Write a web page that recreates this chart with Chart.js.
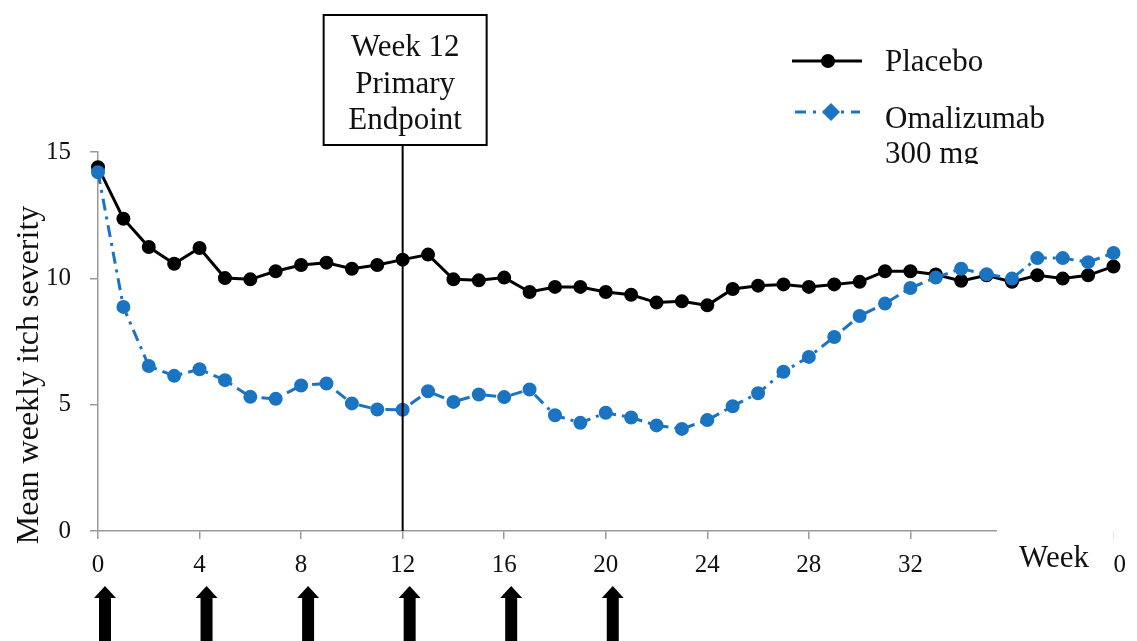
<!DOCTYPE html>
<html>
<head>
<meta charset="utf-8">
<script src="https://cdn.jsdelivr.net/npm/chart.js@4"></script>
<style>
  body { margin: 0; background: #fff; }
  #wrap { width: 1137px; height: 641px; position: relative; }
</style>
</head>
<body>
<div id="wrap"><canvas id="itchChart"></canvas></div>
<script>
// weeks 0..40
const weeks = [0,1,2,3,4,5,6,7,8,9,10,11,12,13,14,15,16,17,18,19,20,21,22,23,24,25,26,27,28,29,30,31,32,33,34,35,36,37,38,39,40];
const placebo = [14.4,12.36,11.24,10.58,11.2,10.01,9.96,10.28,10.53,10.62,10.38,10.53,10.74,10.94,9.96,9.92,10.03,9.46,9.66,9.66,9.46,9.35,9.04,9.09,8.93,9.58,9.71,9.76,9.66,9.76,9.86,10.28,10.28,10.15,9.9,10.12,9.86,10.12,9.99,10.12,10.47];
const omalizumab = [14.2,8.87,6.53,6.14,6.4,5.97,5.31,5.23,5.76,5.84,5.05,4.81,4.8,5.53,5.11,5.4,5.3,5.6,4.58,4.28,4.68,4.49,4.18,4.04,4.39,4.94,5.45,6.3,6.89,7.68,8.51,9.0,9.62,10.03,10.38,10.16,9.99,10.8,10.8,10.64,11.0];
const xTicks = [0,4,8,12,16,20,24,28,32,36,40];
const yTicks = [0,5,10,15];
const doseWeeks = [0,4,8,12,16,20];
const endpointWeek = 12;
const endpointLines = ['Week 12', 'Primary', 'Endpoint'];
const legendLabels = [['Placebo'], ['Omalizumab', '300 mg']];

const serif = '"Liberation Serif", "Times New Roman", serif';
const blue = '#1b74c1';

const extras = {
    id: 'extras',
    afterDraw(chart) {
        const ctx = chart.ctx;
        const xs = chart.scales.x;
        const area = chart.chartArea;
        ctx.save();

        // y axis title
        ctx.save();
        ctx.translate(30, 375);
        ctx.rotate(-Math.PI / 2);
        ctx.font = '32px ' + serif;
        ctx.fillStyle = '#111';
        ctx.textAlign = 'center';
        ctx.textBaseline = 'middle';
        ctx.fillText('Mean weekly itch severity', 0, 0);
        ctx.restore();

        // primary endpoint line + box
        const ex = xs.getPixelForValue(endpointWeek);
        const boxL = ex - 79, boxR = ex + 84, boxT = 15, boxB = 145;
        ctx.strokeStyle = '#000';
        ctx.lineWidth = 2;
        ctx.beginPath();
        ctx.moveTo(ex, boxB);
        ctx.lineTo(ex, area.bottom);
        ctx.stroke();
        ctx.fillStyle = '#fff';
        ctx.fillRect(boxL, boxT, boxR - boxL, boxB - boxT);
        ctx.strokeRect(boxL, boxT, boxR - boxL, boxB - boxT);
        ctx.font = '31px ' + serif;
        ctx.fillStyle = '#111';
        ctx.textAlign = 'center';
        ctx.textBaseline = 'middle';
        endpointLines.forEach((t, i) => ctx.fillText(t, (boxL + boxR) / 2, 48 + i * 36.5));

        // "Week" label box over the end of the x axis
        const endX = xs.getPixelForValue(40);
        ctx.fillStyle = '#fff';
        ctx.fillRect(997, area.bottom - 6, endX - 997, 75);
        ctx.fillRect(endX, area.bottom - 6, 1137 - endX, 14);
        ctx.fillStyle = '#111';
        ctx.font = '31px ' + serif;
        ctx.fillText('Week', 1054, 559);

        // dosing arrows
        ctx.fillStyle = '#000';
        doseWeeks.forEach(w => {
            const ax = xs.getPixelForValue(w) + 7;
            ctx.beginPath();
            ctx.moveTo(ax, 586);
            ctx.lineTo(ax + 11, 598);
            ctx.lineTo(ax + 6, 598);
            ctx.lineTo(ax + 6, 641);
            ctx.lineTo(ax - 6, 641);
            ctx.lineTo(ax - 6, 598);
            ctx.lineTo(ax - 11, 598);
            ctx.closePath();
            ctx.fill();
        });

        // legend
        const ds = chart.data.datasets;
        ctx.font = '31px ' + serif;
        ctx.textAlign = 'left';
        // placebo
        ctx.strokeStyle = ds[0].borderColor;
        ctx.lineWidth = 3;
        ctx.setLineDash([]);
        ctx.beginPath();
        ctx.moveTo(792, 61);
        ctx.lineTo(862, 61);
        ctx.stroke();
        ctx.fillStyle = ds[0].pointBackgroundColor;
        ctx.beginPath();
        ctx.arc(828, 61, 7, 0, Math.PI * 2);
        ctx.fill();
        ctx.fillStyle = '#111';
        ctx.fillText(legendLabels[0][0], 885, 63);
        // omalizumab
        ctx.strokeStyle = ds[1].borderColor;
        ctx.setLineDash([11, 7, 3, 7]);
        ctx.beginPath();
        ctx.moveTo(795, 112);
        ctx.lineTo(860, 112);
        ctx.stroke();
        ctx.setLineDash([]);
        ctx.fillStyle = ds[1].pointBackgroundColor;
        ctx.beginPath();
        ctx.moveTo(831, 103);
        ctx.lineTo(840, 112);
        ctx.lineTo(831, 121);
        ctx.lineTo(822, 112);
        ctx.closePath();
        ctx.fill();
        ctx.fillStyle = '#111';
        ctx.fillText(legendLabels[1][0], 885, 120);
        ctx.save();
        ctx.beginPath();
        ctx.rect(870, 130, 200, 34);
        ctx.clip();
        ctx.fillText(legendLabels[1][1], 885, 155);
        ctx.restore();

        ctx.restore();
    }
};

const axisStyle = {
    grid: { drawOnChartArea: false, drawTicks: true, tickLength: 8, color: '#9a9a9a', lineWidth: 1.5 },
    border: { color: '#9a9a9a', width: 1.5 }
};

new Chart(document.getElementById('itchChart'), {
    type: 'line',
    data: {
        datasets: [
            {
                label: 'Placebo',
                data: weeks.map((w, i) => ({ x: w, y: placebo[i] })),
                borderColor: '#000',
                backgroundColor: '#000',
                pointBackgroundColor: '#000',
                pointBorderColor: '#000',
                borderWidth: 3,
                pointRadius: 5.5,
                pointHoverRadius: 5.5,
                tension: 0,
                clip: false,
                order: 2
            },
            {
                label: 'Omalizumab 300 mg',
                data: weeks.map((w, i) => ({ x: w, y: omalizumab[i] })),
                borderColor: blue,
                backgroundColor: blue,
                pointBackgroundColor: blue,
                pointBorderColor: blue,
                borderWidth: 3,
                borderDash: [12, 6, 3, 6],
                pointRadius: 5.5,
                pointHoverRadius: 5.5,
                tension: 0,
                clip: false,
                order: 1
            }
        ]
    },
    options: {
        responsive: true,
        maintainAspectRatio: false,
        animation: false,
        layout: { padding: { top: 152, right: 15, bottom: 0, left: 0 } },
        plugins: {
            legend: { display: false },
            tooltip: { enabled: false }
        },
        scales: {
            x: {
                type: 'linear',
                min: 0,
                max: 40,
                afterBuildTicks: s => { s.ticks = xTicks.map(v => ({ value: v })); },
                afterFit: s => { s.height = 110; },
                ticks: {
                    font: { family: serif, size: 25 },
                    color: '#111',
                    padding: 11,
                    maxRotation: 0
                },
                ...axisStyle
            },
            y: {
                min: 0,
                max: 15,
                afterBuildTicks: s => { s.ticks = yTicks.map(v => ({ value: v })); },
                afterFit: s => { s.width = 98; },
                ticks: {
                    font: { family: serif, size: 25 },
                    color: '#111',
                    padding: 19
                },
                ...axisStyle
            }
        }
    },
    plugins: [extras]
});
</script>
</body>
</html>
